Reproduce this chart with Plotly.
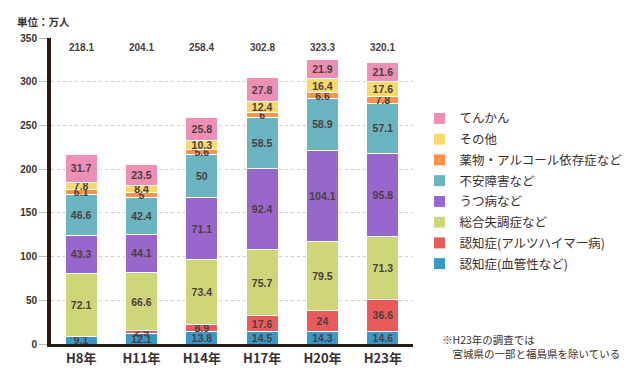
import plotly.graph_objects as go

years = ["H8年", "H11年", "H14年", "H17年", "H20年", "H23年"]
totals = ["218.1", "204.1", "258.4", "302.8", "323.3", "320.1"]

# bottom to top
series_names = [
    "認知症(血管性など)",
    "認知症(アルツハイマー病)",
    "総合失調症など",
    "うつ病など",
    "不安障害など",
    "薬物・アルコール依存症など",
    "その他",
    "てんかん",
]
vascular = [9.1, 12.1, 13.8, 14.5, 14.3, 14.6]
alzheimer = [0, 2.9, 8.9, 17.6, 24, 36.6]
schizo = [72.1, 66.6, 73.4, 75.7, 79.5, 71.3]
depression = [43.3, 44.1, 71.1, 92.4, 104.1, 95.8]
anxiety = [46.6, 42.4, 50, 58.5, 58.9, 57.1]
drugs = [6.1, 5, 5.6, 6, 6.6, 7.8]
other = [7.8, 8.4, 10.3, 12.4, 16.4, 17.6]
epilepsy = [31.7, 23.5, 25.8, 27.8, 21.9, 21.6]

series_values = [vascular, alzheimer, schizo, depression, anxiety, drugs, other, epilepsy]
colors = ["#3A97C6", "#E95B5B", "#CFD67A", "#9966CC", "#6BB4C0", "#F9934A", "#F7D96E", "#EE8FB5"]

yticks = [0, 50, 100, 150, 200, 250, 300, 350]

fig = go.Figure()
n = len(series_names)
for i, (name, vals, col) in enumerate(zip(series_names, series_values, colors)):
    texts = [("" if v == 0 else f"{v:g}") for v in vals]
    fig.add_trace(go.Bar(
        x=years, y=vals, name=name, legendgroup=name, legendrank=n - i,
        marker=dict(color=col, line=dict(color="white", width=1)),
        text=texts, texttemplate="%{text}", textposition="inside",
        insidetextanchor="middle", textangle=0,
        textfont=dict(family="Liberation Sans, Arial", size=10.5, color="#4a4040", weight="bold"),
        cliponaxis=False,
    ))

for yr, t in zip(years, totals):
    fig.add_annotation(x=yr, y=339, xref="x", yref="y", text=t, showarrow=False,
                       font=dict(family="Liberation Sans, Arial", size=10, color="#4a4040", weight="bold"))

fig.add_annotation(xref="paper", yref="paper", x=-0.1, y=1.055, xanchor="left", yanchor="middle",
                   text="<b>単位：万人</b>", showarrow=False,
                   font=dict(family="Noto Sans CJK JP", size=10.5, color="#3a3030"))
fig.add_annotation(xref="paper", yref="paper", x=1.075, y=0.045, xanchor="left", yanchor="top",
                   text="※H23年の調査では<br>　宮城県の一部と福島県を除いている", showarrow=False, align="left",
                   font=dict(family="Noto Sans CJK JP", size=10.5, color="#3a3030"))

fig.update_layout(
    width=632, height=372,
    margin=dict(l=32, r=203, t=30, b=36),
    barmode="stack", bargap=0.47,
    paper_bgcolor="white", plot_bgcolor="white",
    uniformtext=dict(minsize=10.5, mode="show"),
    showlegend=True,
    legend=dict(x=1.018, y=0.785, xanchor="left", yanchor="top", traceorder="grouped",
                tracegroupgap=1.5,
                font=dict(family="Noto Sans CJK JP", size=12.5, color="#3a3030"),
                bgcolor="rgba(0,0,0,0)"),
    font=dict(family="Noto Sans CJK JP", color="#3a3030"),
)
fig.update_yaxes(range=[0, 350], tickvals=yticks, showgrid=True, gridcolor="#cccccc", griddash="dot",
                 gridwidth=1, showline=True, linecolor="#2a1a14", linewidth=4,
                 ticks="outside", ticklen=8, tickcolor="#bbbbbb",
                 tickfont=dict(family="Liberation Sans, Arial", size=10, color="#3a3030", weight="bold"),
                 zeroline=False)
fig.update_xaxes(showline=True, linecolor="#2a1a14", linewidth=3, ticks="",
                 tickfont=dict(family="Noto Sans CJK JP", size=13, color="#3a3030", weight="bold"))

fig.write_html("out.html")
